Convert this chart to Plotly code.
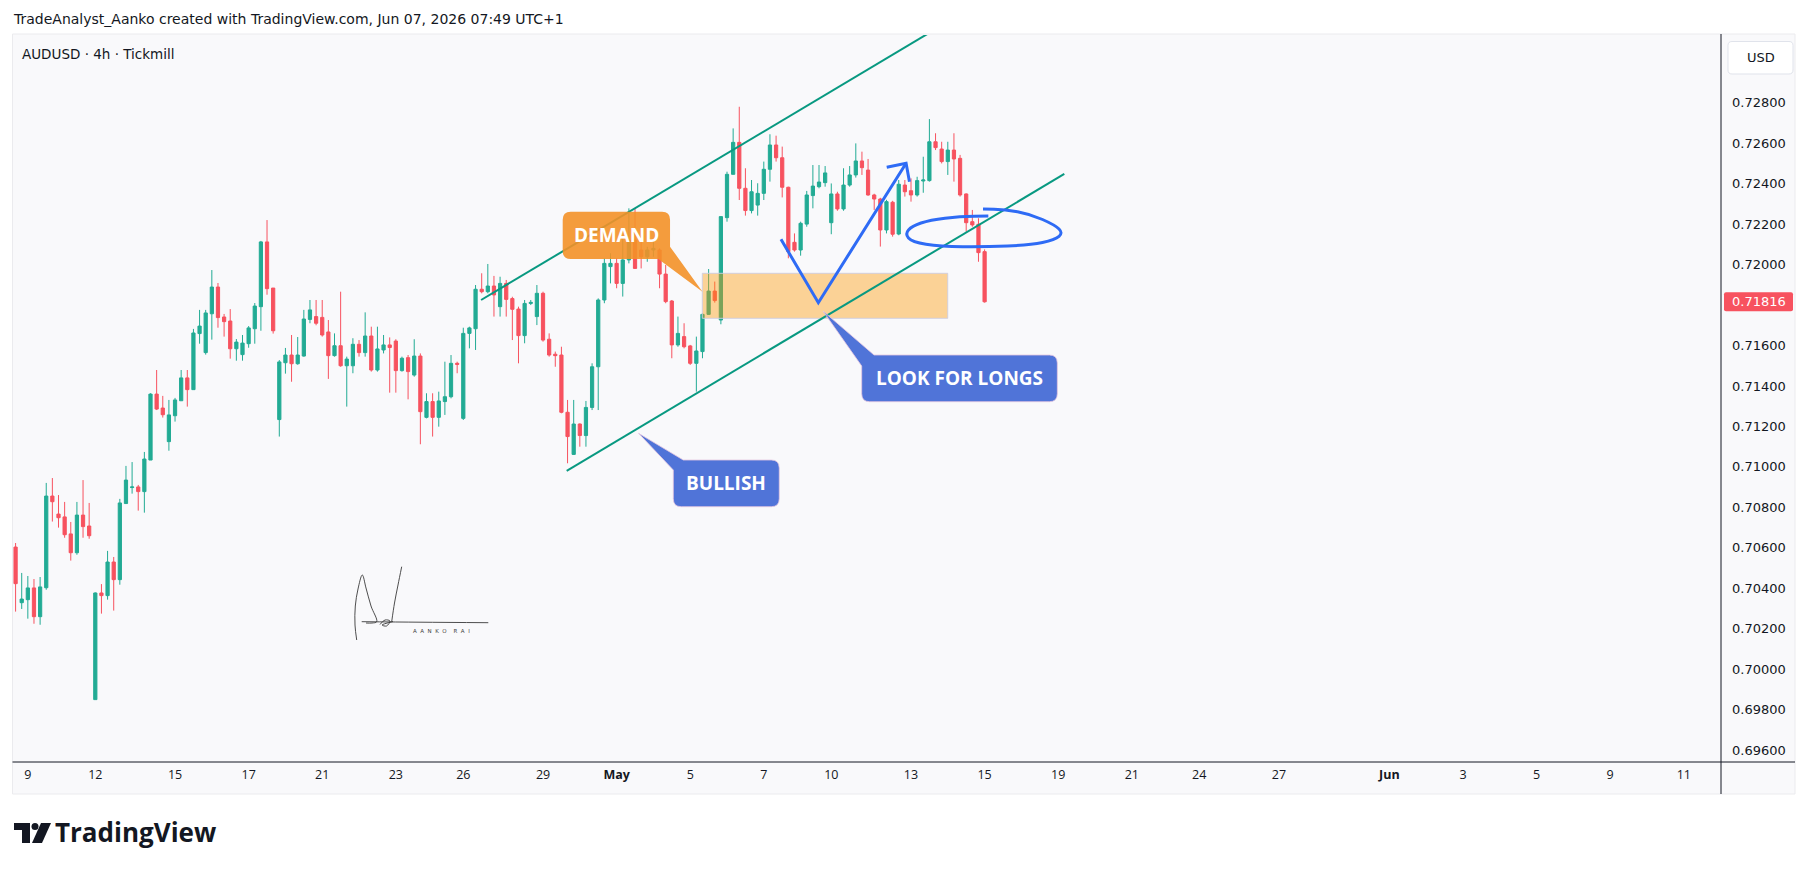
import plotly.graph_objects as go

# ---------------- data (AUDUSD 4h, Tickmill) ----------------
bar_open = [
    0.70604, 0.70329, 0.70344, 0.70402, 0.70260, 0.70403, 0.70856, 0.70767, 0.70753, 0.70669,
    0.70576, 0.70762, 0.70708, 0.69850, 0.70377, 0.70364, 0.70530, 0.70443, 0.70819, 0.70898,
    0.70901, 0.70878, 0.71034, 0.71360, 0.71291, 0.71125, 0.71253, 0.71327, 0.71440, 0.71382,
    0.71659, 0.71565, 0.71757, 0.71889, 0.71741, 0.71721, 0.71584, 0.71555, 0.71609, 0.71683,
    0.71792, 0.72112, 0.71884, 0.71234, 0.71515, 0.71553, 0.71510, 0.71548, 0.71729, 0.71743,
    0.71739, 0.71667, 0.71550, 0.71599, 0.71500, 0.71500, 0.71606, 0.71565, 0.71647, 0.71479,
    0.71578, 0.71603, 0.71622, 0.71476, 0.71540, 0.71454, 0.71548, 0.71245, 0.71323, 0.71245,
    0.71323, 0.71347, 0.71512, 0.71240, 0.71660, 0.71683, 0.71878, 0.71866, 0.71894, 0.71792,
    0.71907, 0.71832, 0.71780, 0.71649, 0.71808, 0.71743, 0.71858, 0.71631, 0.71557, 0.71553,
    0.71270, 0.71062, 0.71212, 0.71155, 0.71294, 0.71495, 0.71825, 0.71990, 0.72006, 0.71907,
    0.72023, 0.72121, 0.72072, 0.72039, 0.72072, 0.72072, 0.71953, 0.71820, 0.71603, 0.71644,
    0.71598, 0.71512, 0.71570, 0.71754, 0.71869, 0.71726, 0.72232, 0.72446, 0.72604, 0.72377,
    0.72267, 0.72294, 0.72352, 0.72471, 0.72591, 0.72528, 0.72382, 0.72110, 0.72072, 0.72200,
    0.72341, 0.72385, 0.72405, 0.72207, 0.72349, 0.72275, 0.72393, 0.72443, 0.72512, 0.72467,
    0.72344, 0.72324, 0.72171, 0.72308, 0.72151, 0.72393, 0.72365, 0.72344, 0.72413, 0.72415,
    0.72607, 0.72571, 0.72509, 0.72566, 0.72525, 0.72349, 0.72212, 0.72199, 0.72064,
]
bar_high = [
    0.70624, 0.70476, 0.70461, 0.70446, 0.70456, 0.70921, 0.70945, 0.70861, 0.70827, 0.70728,
    0.70827, 0.70935, 0.70822, 0.70380, 0.70421, 0.70585, 0.70555, 0.70842, 0.71005, 0.71024,
    0.70911, 0.71074, 0.71364, 0.71479, 0.71351, 0.71331, 0.71341, 0.71479, 0.71479, 0.71682,
    0.71776, 0.71776, 0.71973, 0.71909, 0.71756, 0.71780, 0.71632, 0.71652, 0.71696, 0.71810,
    0.72117, 0.72220, 0.71884, 0.71528, 0.71588, 0.71652, 0.71642, 0.71776, 0.71825, 0.71825,
    0.71825, 0.71726, 0.71660, 0.71866, 0.71545, 0.71636, 0.71627, 0.71764, 0.71693, 0.71693,
    0.71652, 0.71640, 0.71631, 0.71545, 0.71553, 0.71631, 0.71561, 0.71364, 0.71364, 0.71372,
    0.71520, 0.71553, 0.71520, 0.71688, 0.71693, 0.71899, 0.71957, 0.72003, 0.71944, 0.71940,
    0.71924, 0.71841, 0.71792, 0.71825, 0.71825, 0.71899, 0.71866, 0.71660, 0.71570, 0.71594,
    0.71331, 0.71331, 0.71215, 0.71326, 0.71512, 0.71833, 0.72031, 0.72056, 0.72031, 0.72130,
    0.72278, 0.72278, 0.72121, 0.72088, 0.72121, 0.72080, 0.71998, 0.71825, 0.71743, 0.71710,
    0.71603, 0.71644, 0.71759, 0.71978, 0.71916, 0.72237, 0.72459, 0.72673, 0.72780, 0.72476,
    0.72418, 0.72402, 0.72509, 0.72644, 0.72637, 0.72583, 0.72385, 0.72154, 0.72212, 0.72364,
    0.72492, 0.72492, 0.72487, 0.72401, 0.72360, 0.72476, 0.72487, 0.72599, 0.72558, 0.72522,
    0.72350, 0.72330, 0.72320, 0.72315, 0.72418, 0.72418, 0.72426, 0.72434, 0.72533, 0.72719,
    0.72649, 0.72607, 0.72607, 0.72649, 0.72542, 0.72352, 0.72270, 0.72229, 0.72075,
]
bar_low = [
    0.70285, 0.70298, 0.70250, 0.70225, 0.70220, 0.70393, 0.70730, 0.70700, 0.70650, 0.70537,
    0.70566, 0.70650, 0.70645, 0.69850, 0.70275, 0.70344, 0.70290, 0.70418, 0.70819, 0.70868,
    0.70784, 0.70774, 0.71034, 0.71281, 0.71244, 0.71080, 0.71224, 0.71327, 0.71298, 0.71382,
    0.71609, 0.71555, 0.71629, 0.71688, 0.71644, 0.71535, 0.71525, 0.71525, 0.71589, 0.71609,
    0.71673, 0.71851, 0.71659, 0.71150, 0.71461, 0.71421, 0.71505, 0.71545, 0.71710, 0.71700,
    0.71644, 0.71435, 0.71545, 0.71495, 0.71298, 0.71463, 0.71545, 0.71545, 0.71471, 0.71471,
    0.71561, 0.71367, 0.71367, 0.71471, 0.71334, 0.71446, 0.71112, 0.71240, 0.71150, 0.71199,
    0.71257, 0.71339, 0.71463, 0.71232, 0.71586, 0.71578, 0.71858, 0.71858, 0.71743, 0.71743,
    0.71743, 0.71627, 0.71512, 0.71611, 0.71800, 0.71701, 0.71619, 0.71545, 0.71495, 0.71265,
    0.71018, 0.71059, 0.71100, 0.71100, 0.71281, 0.71281, 0.71809, 0.71907, 0.71883, 0.71842,
    0.72006, 0.71981, 0.71981, 0.72014, 0.72039, 0.71883, 0.71809, 0.71537, 0.71594, 0.71586,
    0.71504, 0.71372, 0.71537, 0.71751, 0.71812, 0.71705, 0.72212, 0.72446, 0.72319, 0.72242,
    0.72253, 0.72242, 0.72319, 0.72410, 0.72509, 0.72332, 0.72031, 0.72064, 0.72044, 0.72187,
    0.72278, 0.72377, 0.72385, 0.72150, 0.72266, 0.72266, 0.72385, 0.72430, 0.72443, 0.72340,
    0.72270, 0.72089, 0.72154, 0.72138, 0.72145, 0.72336, 0.72311, 0.72336, 0.72355, 0.72410,
    0.72566, 0.72500, 0.72443, 0.72410, 0.72336, 0.72163, 0.72187, 0.72014, 0.71812,
]
bar_close = [
    0.70423, 0.70347, 0.70402, 0.70260, 0.70407, 0.70856, 0.70828, 0.70749, 0.70665, 0.70576,
    0.70762, 0.70705, 0.70660, 0.70377, 0.70364, 0.70530, 0.70443, 0.70822, 0.70935, 0.70901,
    0.70878, 0.71039, 0.71360, 0.71286, 0.71258, 0.71257, 0.71331, 0.71440, 0.71382, 0.71662,
    0.71696, 0.71761, 0.71889, 0.71738, 0.71718, 0.71584, 0.71617, 0.71612, 0.71687, 0.71795,
    0.72112, 0.71881, 0.71673, 0.71519, 0.71553, 0.71510, 0.71553, 0.71731, 0.71776, 0.71710,
    0.71652, 0.71550, 0.71599, 0.71500, 0.71533, 0.71606, 0.71565, 0.71647, 0.71479, 0.71583,
    0.71603, 0.71590, 0.71476, 0.71537, 0.71471, 0.71548, 0.71273, 0.71323, 0.71245, 0.71326,
    0.71347, 0.71512, 0.71507, 0.71660, 0.71687, 0.71878, 0.71866, 0.71894, 0.71850, 0.71907,
    0.71828, 0.71779, 0.71649, 0.71808, 0.71813, 0.71858, 0.71627, 0.71553, 0.71550, 0.71270,
    0.71150, 0.71212, 0.71155, 0.71294, 0.71495, 0.71825, 0.72006, 0.72006, 0.71907, 0.72023,
    0.72121, 0.71981, 0.72039, 0.72072, 0.72080, 0.71953, 0.71817, 0.71603, 0.71660, 0.71594,
    0.71512, 0.71573, 0.71754, 0.71869, 0.71822, 0.72237, 0.72446, 0.72604, 0.72377, 0.72267,
    0.72360, 0.72352, 0.72471, 0.72591, 0.72528, 0.72382, 0.72064, 0.72072, 0.72204, 0.72344,
    0.72388, 0.72408, 0.72453, 0.72349, 0.72275, 0.72393, 0.72443, 0.72512, 0.72479, 0.72344,
    0.72324, 0.72171, 0.72311, 0.72150, 0.72397, 0.72360, 0.72344, 0.72415, 0.72418, 0.72607,
    0.72578, 0.72509, 0.72566, 0.72522, 0.72344, 0.72207, 0.72196, 0.72059, 0.71816,
]
bar_index = list(range(len(bar_close)))

time_tick_bars = [2, 13, 26, 38, 50, 62, 73, 86, 98, 110, 122, 133, 146, 158,
                  170, 182, 193, 206, 224, 236, 248, 260, 272]
time_tick_labels = ["9", "12", "15", "17", "21", "23", "26", "29", "<b>May</b>", "5", "7",
                    "10", "13", "15", "19", "21", "24", "27", "<b>Jun</b>", "3", "5", "9", "11"]
price_tick_values = [round(0.696 + 0.002 * k, 3) for k in range(17)]
price_tick_labels = [f"{v:.5f}" for v in price_tick_values]
last_price = 0.71816

# analyst drawings, anchored in (bar index, price)
upper_channel_x = [75.9, 154.0]
upper_channel_y = [0.71825, 0.73236]
lower_channel_x = [89.86, 171.0]
lower_channel_y = [0.70981, 0.72448]
demand_zone_x = [111.97, 151.99]
demand_zone_y = [0.717345, 0.719569]
v_arrow_x = [124.8, 130.89, 145.2]
v_arrow_y = [0.72125, 0.718116, 0.725005]
arrow_head_x = [142.04, 145.2, 145.75]
arrow_head_y = [0.724807, 0.725005, 0.724096]
loop_x = [158.61, 153.99, 149.10, 146.16, 145.02, 146.16, 150.73, 158.07, 165.40,
          169.48, 170.79, 169.48, 165.40, 161.33, 157.74]
loop_y = [0.722401, 0.722376, 0.722203, 0.721907, 0.721511, 0.721116, 0.720893, 0.720869,
          0.720967, 0.721215, 0.721561, 0.721956, 0.722500, 0.722722, 0.722747]

# callouts: box x-range, box price-range, pointer tip, pointer base points
demand_box = dict(x=[89.21, 106.71], y=[0.720276, 0.722613], tip=(112.0, 0.71866),
                  base_a=(106.71, 0.720884), base_b=(104.80, 0.720276), text="DEMAND")
bullish_box = dict(x=[107.24, 124.52], y=[0.708034, 0.710342], tip=(101.57, 0.711662),
                   base_a=(107.24, 0.709848), base_b=(108.87, 0.710342), text="BULLISH")
longs_box = dict(x=[137.96, 169.86], y=[0.713223, 0.715531], tip=(131.65, 0.717706),
                 base_a=(137.96, 0.714988), base_b=(139.97, 0.715531), text="LOOK FOR LONGS")

# ---------------- layout geometry ----------------
# the page draws the figure 8px in from the top-left corner; work in screen pixels
OFF = 8
W, H = 1802, 864
ML, MR, MT, MB = 13 - OFF, 89, 35 - OFF, 110
PW, PH = W - ML - MR, H - MT - MB
X_RANGE = [-0.42, 278.07]
Y_RANGE = [0.695417, 0.731346]
BAR_PX = PW / (X_RANGE[1] - X_RANGE[0])
PRICE_PER_PX = (Y_RANGE[1] - Y_RANGE[0]) / PH

GREEN = "#22ab94"
RED = "#f7525f"
BG = "#f9f9fb"
DARK = "#131722"
ORANGE_BOX = "rgba(243,145,40,0.9)"
BLUE_BOX = "#5074d8"
DRAW_BLUE = "#2e6bf5"
CHANNEL = "#089981"


def paper_x(sx):
    return (sx - OFF - ML) / PW


def paper_y(sy):
    return (H - MB - (sy - OFF)) / PH


def px_bar(sx):
    return X_RANGE[0] + (sx - OFF - ML) / BAR_PX


def py_price(sy):
    return Y_RANGE[1] - (sy - OFF - MT) * PRICE_PER_PX


RX = 8 / BAR_PX
RY = 8 * PRICE_PER_PX


def p(x, y):
    return f"{x:.4f},{y:.6f}"


def callout_bottom_right(c):
    x0, x1 = c["x"]
    y0, y1 = c["y"]
    return ("M" + p(x0 + RX, y1) + " L" + p(x1 - RX, y1) + " Q" + p(x1, y1) + " " + p(x1, y1 - RY)
            + " L" + p(*c["base_a"]) + " L" + p(*c["tip"]) + " L" + p(*c["base_b"])
            + " L" + p(x0 + RX, y0) + " Q" + p(x0, y0) + " " + p(x0, y0 + RY)
            + " L" + p(x0, y1 - RY) + " Q" + p(x0, y1) + " " + p(x0 + RX, y1) + " Z")


def callout_top_left(c):
    x0, x1 = c["x"]
    y0, y1 = c["y"]
    return ("M" + p(*c["base_b"]) + " L" + p(x1 - RX, y1) + " Q" + p(x1, y1) + " " + p(x1, y1 - RY)
            + " L" + p(x1, y0 + RY) + " Q" + p(x1, y0) + " " + p(x1 - RX, y0)
            + " L" + p(x0 + RX, y0) + " Q" + p(x0, y0) + " " + p(x0, y0 + RY)
            + " L" + p(*c["base_a"]) + " L" + p(*c["tip"]) + " Z")


def smooth_open_path(xs, ys):
    pts = list(zip(xs, ys))
    mids = [((pts[i][0] + pts[i + 1][0]) / 2, (pts[i][1] + pts[i + 1][1]) / 2) for i in range(len(pts) - 1)]
    d = "M" + p(*pts[0]) + " L" + p(*mids[0])
    for i in range(1, len(pts) - 1):
        d += " Q" + p(*pts[i]) + " " + p(*mids[i])
    d += " L" + p(*pts[-1])
    return d


def paper_round_rect(x0, y0, x1, y1, r):
    def q(a, b):
        return f"{paper_x(a):.6f},{paper_y(b):.6f}"
    return ("M" + q(x0 + r, y0) + " L" + q(x1 - r, y0) + " Q" + q(x1, y0) + " " + q(x1, y0 + r)
            + " L" + q(x1, y1 - r) + " Q" + q(x1, y1) + " " + q(x1 - r, y1)
            + " L" + q(x0 + r, y1) + " Q" + q(x0, y1) + " " + q(x0, y1 - r)
            + " L" + q(x0, y0 + r) + " Q" + q(x0, y0) + " " + q(x0 + r, y0) + " Z")


fig = go.Figure()

fig.add_trace(go.Candlestick(
    x=bar_index, open=bar_open, high=bar_high, low=bar_low, close=bar_close,
    increasing=dict(line=dict(color=GREEN, width=1), fillcolor=GREEN),
    decreasing=dict(line=dict(color=RED, width=1), fillcolor=RED),
    whiskerwidth=0, showlegend=False, hoverinfo="skip",
))

# signature (decorative, screen pixels)
sig_strokes = [
    [(356.7, 640), (355, 625), (355.3, 606), (358, 589), (362.3, 575), (366, 588), (371, 606),
     (376.7, 621.7), (372, 623), (366, 623)],
    [(361.7, 621.7), (420, 622.2), (488.3, 622.7)],
    [(380, 624.5), (385, 620), (390, 621), (386.5, 626), (382, 625), (393, 621.5)],
    [(391.7, 621.7), (394.5, 603), (398, 585), (401.7, 566.7)],
]
for s in sig_strokes:
    fig.add_trace(go.Scatter(
        x=[px_bar(a) for a, b in s], y=[py_price(b) for a, b in s], mode="lines",
        line=dict(color="#3a3a3a", width=0.9, shape="spline"), showlegend=False, hoverinfo="skip",
    ))

shapes = []
shapes.append(dict(type="rect", xref="paper", yref="paper", x0=paper_x(12.5), x1=paper_x(1795),
                   y0=paper_y(794), y1=paper_y(34), fillcolor=BG, line=dict(color="#ebebee", width=1),
                   layer="below"))
shapes.append(dict(type="rect", xref="x", yref="y", x0=demand_zone_x[0], x1=demand_zone_x[1],
                   y0=demand_zone_y[0], y1=demand_zone_y[1], fillcolor="rgba(255,152,0,0.4)",
                   line=dict(color="rgba(205,205,225,0.9)", width=1)))
shapes.append(dict(type="line", xref="x", yref="y", x0=upper_channel_x[0], x1=upper_channel_x[1],
                   y0=upper_channel_y[0], y1=upper_channel_y[1], line=dict(color=CHANNEL, width=2)))
shapes.append(dict(type="line", xref="x", yref="y", x0=lower_channel_x[0], x1=lower_channel_x[1],
                   y0=lower_channel_y[0], y1=lower_channel_y[1], line=dict(color=CHANNEL, width=2)))
shapes.append(dict(type="path", xref="x", yref="y", path=callout_bottom_right(demand_box),
                   fillcolor=ORANGE_BOX, line=dict(width=0)))
shapes.append(dict(type="path", xref="x", yref="y", path=callout_top_left(bullish_box),
                   fillcolor=BLUE_BOX, line=dict(color="rgba(230,200,225,0.8)", width=1)))
shapes.append(dict(type="path", xref="x", yref="y", path=callout_top_left(longs_box),
                   fillcolor=BLUE_BOX, line=dict(color="rgba(230,200,225,0.8)", width=1)))
shapes.append(dict(type="path", xref="x", yref="y",
                   path="M" + " L".join(p(a, b) for a, b in zip(v_arrow_x, v_arrow_y)),
                   line=dict(color=DRAW_BLUE, width=3)))
shapes.append(dict(type="path", xref="x", yref="y",
                   path="M" + " L".join(p(a, b) for a, b in zip(arrow_head_x, arrow_head_y)),
                   line=dict(color=DRAW_BLUE, width=3)))
shapes.append(dict(type="path", xref="x", yref="y", path=smooth_open_path(loop_x, loop_y),
                   line=dict(color=DRAW_BLUE, width=3)))
# axis separators
shapes.append(dict(type="line", xref="paper", yref="paper", x0=paper_x(12.5), x1=paper_x(1795),
                   y0=0, y1=0, line=dict(color=DARK, width=1)))
shapes.append(dict(type="line", xref="paper", yref="paper", x0=1, x1=1,
                   y0=paper_y(794), y1=paper_y(34), line=dict(color=DARK, width=1)))
# USD box
shapes.append(dict(type="path", xref="paper", yref="paper", path=paper_round_rect(1728, 41.5, 1793, 74, 4),
                   fillcolor="white", line=dict(color="#e0e3eb", width=1)))
# last price tag
lp_sy = OFF + MT + (Y_RANGE[1] - last_price) / PRICE_PER_PX
shapes.append(dict(type="path", xref="paper", yref="paper",
                   path=paper_round_rect(1724, lp_sy - 9.5, 1793, lp_sy + 9.5, 2),
                   fillcolor=RED, line=dict(width=0)))
# TradingView logo mark
shapes.append(dict(type="rect", xref="paper", yref="paper", x0=paper_x(14), x1=paper_x(30),
                   y0=paper_y(830), y1=paper_y(823), fillcolor=DARK, line=dict(width=0)))
shapes.append(dict(type="rect", xref="paper", yref="paper", x0=paper_x(22), x1=paper_x(30),
                   y0=paper_y(843), y1=paper_y(823), fillcolor=DARK, line=dict(width=0)))
shapes.append(dict(type="circle", xref="paper", yref="paper", x0=paper_x(31.5), x1=paper_x(38.5),
                   y0=paper_y(830), y1=paper_y(823), fillcolor=DARK, line=dict(width=0)))
shapes.append(dict(type="path", xref="paper", yref="paper",
                   path=f"M{paper_x(41)},{paper_y(823)} L{paper_x(51)},{paper_y(823)} "
                        f"L{paper_x(42)},{paper_y(843)} L{paper_x(32)},{paper_y(843)} Z",
                   fillcolor=DARK, line=dict(width=0)))

annotations = []
annotations.append(dict(xref="paper", yref="paper", x=paper_x(11), y=paper_y(18.5), xanchor="left",
                        yanchor="middle", showarrow=False,
                        text="TradeAnalyst_Aanko created with TradingView.com, Jun 07, 2026 07:49 UTC+1",
                        font=dict(family="DejaVu Sans", size=14, color=DARK)))
annotations.append(dict(xref="paper", yref="paper", x=paper_x(20), y=paper_y(54), xanchor="left",
                        yanchor="middle", showarrow=False, text="AUDUSD · 4h · Tickmill",
                        font=dict(family="DejaVu Sans", size=13.5, color=DARK)))
annotations.append(dict(xref="paper", yref="paper", x=paper_x(1760.5), y=paper_y(57.7), xanchor="center",
                        yanchor="middle", showarrow=False, text="USD",
                        font=dict(family="DejaVu Sans", size=13, color=DARK)))
annotations.append(dict(xref="paper", yref="paper", x=paper_x(1758.5), y=paper_y(lp_sy), xanchor="center",
                        yanchor="middle", showarrow=False, text=f"{last_price:.5f}",
                        font=dict(family="DejaVu Sans", size=13, color="white")))
annotations.append(dict(xref="paper", yref="paper", x=paper_x(53), y=paper_y(832), xanchor="left",
                        yanchor="middle", showarrow=False, text="<b>TradingView</b>",
                        font=dict(family="Open Sans", size=26, color=DARK)))
for c in (demand_box, bullish_box, longs_box):
    annotations.append(dict(xref="x", yref="y", x=(c["x"][0] + c["x"][1]) / 2,
                            y=(c["y"][0] + c["y"][1]) / 2, xanchor="center", yanchor="middle",
                            showarrow=False, text=f"<b>{c['text']}</b>",
                            font=dict(family="Open Sans", size=19, color="white")))
annotations.append(dict(xref="x", yref="y", x=px_bar(441.7), y=py_price(631), xanchor="center",
                        yanchor="middle", showarrow=False, text="A  A  N  K  O    R  A  I",
                        font=dict(family="DejaVu Sans", size=5.5, color="#444444")))

fig.update_layout(
    width=W, height=H, margin=dict(l=ML, r=MR, t=MT, b=MB, autoexpand=False),
    paper_bgcolor="white", plot_bgcolor=BG, showlegend=False, boxgap=0.25,
    shapes=shapes, annotations=annotations,
    xaxis=dict(range=X_RANGE, rangeslider=dict(visible=False), showgrid=False, zeroline=False,
               tickmode="array", tickvals=time_tick_bars, ticktext=time_tick_labels, ticks="",
               tickfont=dict(family="Open Sans", size=12.5, color=DARK), ticklabelstandoff=3,
               showline=False, fixedrange=True),
    yaxis=dict(range=Y_RANGE, side="right", showgrid=False, zeroline=False, tickmode="array",
               tickvals=price_tick_values, ticktext=price_tick_labels, ticks="",
               tickfont=dict(family="DejaVu Sans", size=13, color=DARK), ticklabelstandoff=10,
               showline=False, fixedrange=True),
)

fig.write_html("out.html")
